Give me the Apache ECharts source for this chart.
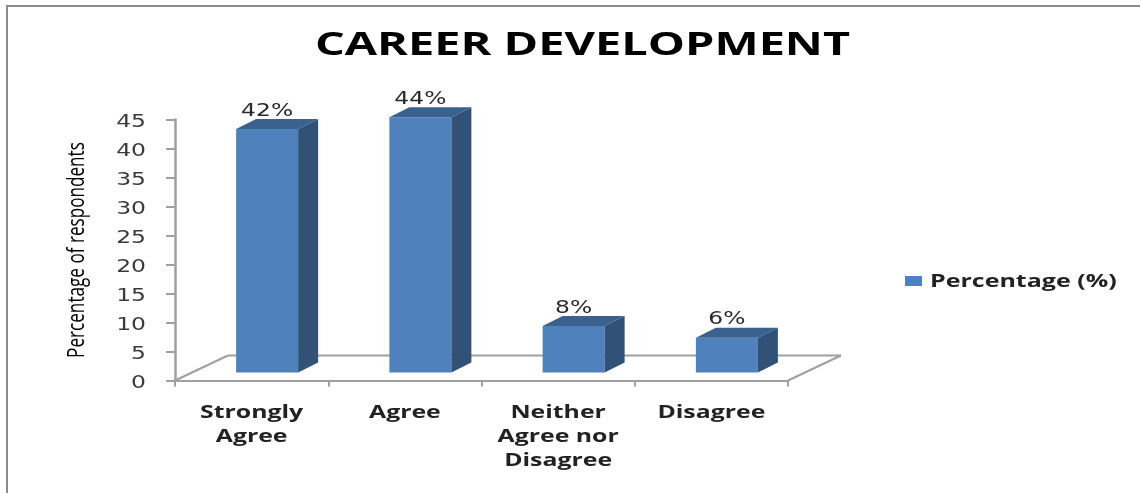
<!DOCTYPE html>
<html>
<head>
<meta charset="utf-8">
<style>html,body{margin:0;padding:0;background:#fff}#chart{width:1140px;height:493px}</style>
<script src="https://cdn.jsdelivr.net/npm/echarts@6/dist/echarts.min.js"></script>
</head>
<body>
<div id="chart"></div>
<script>
const categories = ['Strongly\nAgree', 'Agree', 'Neither\nAgree nor\nDisagree', 'Disagree'];
const percentages = [42, 44, 8, 6];
const yTickValues = [0, 5, 10, 15, 20, 25, 30, 35, 40, 45];
const titleText = 'CAREER DEVELOPMENT';
const yAxisTitle = 'Percentage of respondents';
const seriesName = 'Percentage (%)';

// Oblique projection of the 3D column look, in pixels
const DEPTH_X = 20, DEPTH_Y = 10;
const SHIFT_X = 15.5, SHIFT_Y = 8;
const BAR_WIDTH = 62;
const FLOOR_X = 53, FLOOR_Y = 25;
const BLUE = '#4f81bd';
const GREY = '#a0a0a0';

// All text in this chart is set wide, so it is built with a horizontal scale
function wideText(text, x, y, scaleX, font, fill, align, verticalAlign, extra) {
  return Object.assign({
    type: 'text', x, y, scaleX, scaleY: 1, silent: true,
    style: Object.assign({
      text, x: 0, y: 0, font, fill,
      align: align || 'center', verticalAlign: verticalAlign || 'middle'
    }, extra && extra.style)
  }, extra && extra.el);
}

function renderColumn(params, api) {
  const c = api.coord([api.value(0), api.value(1)]);
  const base = api.coord([api.value(0), 0]);
  const x0 = c[0] + SHIFT_X - BAR_WIDTH / 2, x1 = x0 + BAR_WIDTH;
  const top = c[1] - SHIFT_Y, bot = base[1] - SHIFT_Y;
  const poly = (points, fill) => ({ type: 'polygon', shape: { points }, style: { fill } });
  return {
    type: 'group',
    children: [
      poly([[x0, top], [x1, top], [x1, bot], [x0, bot]], BLUE),
      poly([[x1, top], [x1 + DEPTH_X, top - DEPTH_Y], [x1 + DEPTH_X, bot - DEPTH_Y], [x1, bot]], '#315276'),
      poly([[x0, top], [x0 + DEPTH_X, top - DEPTH_Y], [x1 + DEPTH_X, top - DEPTH_Y], [x1, top]], '#3b618f'),
      wideText(api.value(1) + '%', (x0 + x1) / 2, top - DEPTH_Y - 8, 1.3, '18px "DejaVu Sans"', '#2a2a2a')
    ]
  };
}

// The floor of the plot: two oblique edges and the back edge
function renderFloor(params, api) {
  const size = api.size([1, 0])[0];
  const start = api.coord([0, 0]);
  const left = start[0] - size / 2;
  const right = left + size * categories.length;
  const y = start[1];
  const line = (a, b) => ({
    type: 'line', shape: { x1: a[0], y1: a[1], x2: b[0], y2: b[1] },
    style: { stroke: GREY, lineWidth: 2 }
  });
  return {
    type: 'group',
    children: [
      line([left, y], [left + FLOOR_X, y - FLOOR_Y]),
      line([left + FLOOR_X, y - FLOOR_Y], [right + FLOOR_X, y - FLOOR_Y]),
      line([right, y], [right + FLOOR_X, y - FLOOR_Y])
    ]
  };
}

function renderYTickLabel(params, api) {
  const p = api.coord([0, api.value(0)]);
  const left = p[0] - api.size([1, 0])[0] / 2;
  return wideText(String(api.value(0)), left - 29, p[1] + 3, 1.38, '17px "DejaVu Sans"', '#3a3a3a', 'right');
}

function renderCategoryLabel(params, api) {
  const p = api.coord([api.value(0), 0]);
  return wideText(categories[params.dataIndex], p[0], p[1] + 21, 1.46,
    'bold 17px "Open Sans"', '#222', 'center', 'top', { style: { lineHeight: 24 } });
}

const chart = echarts.init(document.getElementById('chart'));
chart.setOption({
  animation: false,
  backgroundColor: '#fff',
  legend: {
    left: 905, top: 276, itemWidth: 17, itemHeight: 10, padding: 0,
    data: [{ name: seriesName, icon: 'rect', itemStyle: { color: BLUE } }],
    formatter: () => ''
  },
  grid: { left: 175, top: 119.5, width: 613, height: 261 },
  xAxis: {
    type: 'category', data: categories,
    axisLine: { lineStyle: { color: GREY, width: 2 } },
    axisTick: { show: true, length: 6, lineStyle: { color: GREY, width: 2 } },
    axisLabel: { show: false }
  },
  yAxis: {
    type: 'value', min: yTickValues[0], max: yTickValues[yTickValues.length - 1], interval: yTickValues[1] - yTickValues[0],
    splitLine: { show: false },
    axisLine: { show: true, lineStyle: { color: GREY, width: 2.5 } },
    axisTick: { show: true, length: 9, lineStyle: { color: GREY, width: 2 } },
    axisLabel: { show: false }
  },
  graphic: [
    { type: 'polyline', silent: true, shape: { points: [[7, 493], [7, 6], [1140, 6]] }, style: { stroke: '#8c8c8c', fill: null, lineWidth: 2 } },
    wideText(titleText, 582.5, 46, 1.42, 'bold 33px "Open Sans"', '#000'),
    wideText(yAxisTitle, 77, 250, 0.745, '23px "Open Sans"', '#000', 'center', 'middle', { el: { rotation: Math.PI / 2 } }),
    wideText(seriesName, 930, 282, 1.47, 'bold 17px "Open Sans"', '#222', 'left')
  ],
  series: [
    { type: 'custom', name: 'floor', renderItem: renderFloor, data: [[0, 0]], z: 1, silent: true },
    {
      type: 'custom', name: seriesName, renderItem: renderColumn, z: 2,
      encode: { x: 0, y: 1 },
      data: percentages.map((v, i) => [i, v])
    },
    { type: 'custom', name: 'yTickLabels', renderItem: renderYTickLabel, data: yTickValues.map(v => [v]), silent: true, clip: false },
    { type: 'custom', name: 'categoryLabels', renderItem: renderCategoryLabel, data: categories.map((c, i) => [i]), silent: true, clip: false }
  ]
});
</script>
</body>
</html>
